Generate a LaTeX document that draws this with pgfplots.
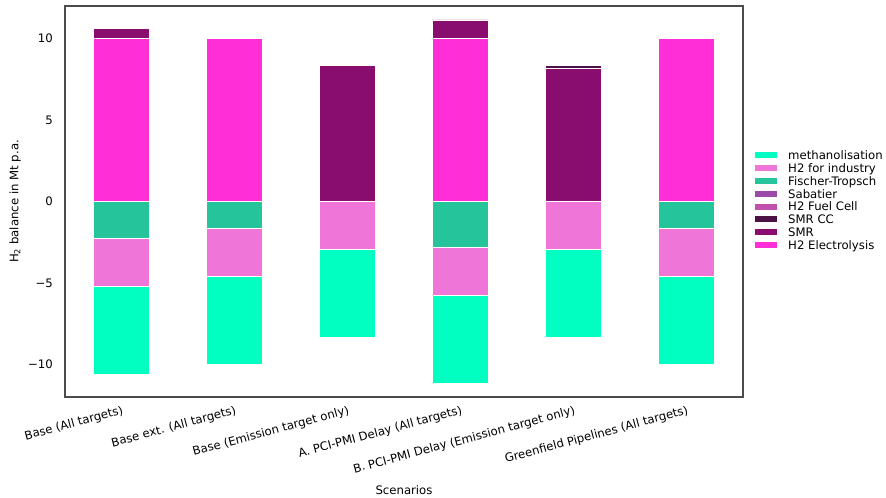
\documentclass[border=0pt]{standalone}
\usepackage{pgfplots}
\pgfplotsset{compat=1.18}
\usepackage{fontspec}
\setmainfont{DejaVu Sans}
\definecolor{cMeth}{HTML}{00FFC0}
\definecolor{cInd}{HTML}{F075D8}
\definecolor{cFT}{HTML}{25C49B}
\definecolor{cSab}{HTML}{9B4AA9}
\definecolor{cFC}{HTML}{C251AE}
\definecolor{cSMRCC}{HTML}{4B1145}
\definecolor{cSMR}{HTML}{880D6E}
\definecolor{cEl}{HTML}{FF2ED7}
\pgfplotsset{
  base/.style={
    width=678bp, height=391bp, scale only axis,
    at={(0,0)}, anchor=south west,
    xmin=-0.5, xmax=5.5, ymin=-12, ymax=12,
    ybar stacked, bar width=0.5,
  },
  seg/.style={fill=#1, draw=white, line width=0.6bp},
  legpatch/.style={legend image code/.code={\fill[##1, draw=none] (0bp,1.3bp) rectangle (22bp,7.3bp);}},
}
\begin{document}
\fontsize{11.7bp}{14bp}\selectfont
\begin{tikzpicture}
\begin{axis}[base, hide axis]
  \addplot[seg=cFT] coordinates {(0,-2.25) (1,-1.62) (2,0) (3,-2.8) (4,0) (5,-1.62)};
  \addplot[seg=cInd] coordinates {(0,-2.95) (1,-2.95) (2,-2.92) (3,-2.95) (4,-2.92) (5,-2.95)};
  \addplot[seg=cMeth] coordinates {(0,-5.43) (1,-5.40) (2,-5.42) (3,-5.42) (4,-5.42) (5,-5.40)};
\end{axis}
\begin{axis}[base,
  axis line style={draw=black!70, line width=1.25bp},
  major tick length=0pt, tick style={draw=none},
  xtick={0,1,2,3,4,5},
  xticklabels={Base (All targets), Base ext. (All targets), Base (Emission target only), A. PCI-PMI Delay (All targets), B. PCI-PMI Delay (Emission target only), Greenfield Pipelines (All targets)},
  xticklabel style={yshift=-8bp, rotate=15, anchor=north east, inner sep=0pt},
  ytick={-10,-5,0,5,10},
  yticklabels={−10,−5,0,5,10},
  yticklabel style={inner sep=0pt, anchor=east, xshift=-12bp},
  xlabel={Scenarios},
  ylabel={H\textsubscript{2} balance in Mt p.a.},
  every axis x label/.style={at={(axis description cs:0.5,0)}, anchor=north, inner sep=0pt, yshift=-88.5bp},
  every axis y label/.style={at={(axis description cs:0,0.5)}, xshift=-44bp, rotate=90, anchor=south, inner sep=0pt},
  legend style={at={(1,0.5)}, anchor=west, xshift=12bp, draw=none, fill=none, inner sep=0pt,
    row sep=1.8bp, column sep=11bp,
    nodes={inner sep=0pt, text height=8.5bp, text depth=2.5bp, anchor=base west}},
  legend cell align=left,
]
  \addplot[seg=cEl, forget plot] coordinates {(0,10) (1,10) (2,0) (3,10) (4,0) (5,10)};
  \addplot[seg=cSMR, forget plot] coordinates {(0,0.62) (1,0) (2,8.36) (3,1.15) (4,8.2) (5,0)};
  \addplot[seg=cSMRCC, forget plot] coordinates {(0,0) (1,0) (2,0) (3,0) (4,0.15) (5,0)};
  \addlegendimage{legpatch, fill=cMeth}
  \addlegendentry{methanolisation}
  \addlegendimage{legpatch, fill=cInd}
  \addlegendentry{H2 for industry}
  \addlegendimage{legpatch, fill=cFT}
  \addlegendentry{Fischer-Tropsch}
  \addlegendimage{legpatch, fill=cSab}
  \addlegendentry{Sabatier}
  \addlegendimage{legpatch, fill=cFC}
  \addlegendentry{H2 Fuel Cell}
  \addlegendimage{legpatch, fill=cSMRCC}
  \addlegendentry{SMR CC}
  \addlegendimage{legpatch, fill=cSMR}
  \addlegendentry{SMR}
  \addlegendimage{legpatch, fill=cEl}
  \addlegendentry{H2 Electrolysis}
\end{axis}
\pgfresetboundingbox
\path[use as bounding box] (-65bp,-101bp) rectangle (821bp,397bp);
\end{tikzpicture}
\end{document}
